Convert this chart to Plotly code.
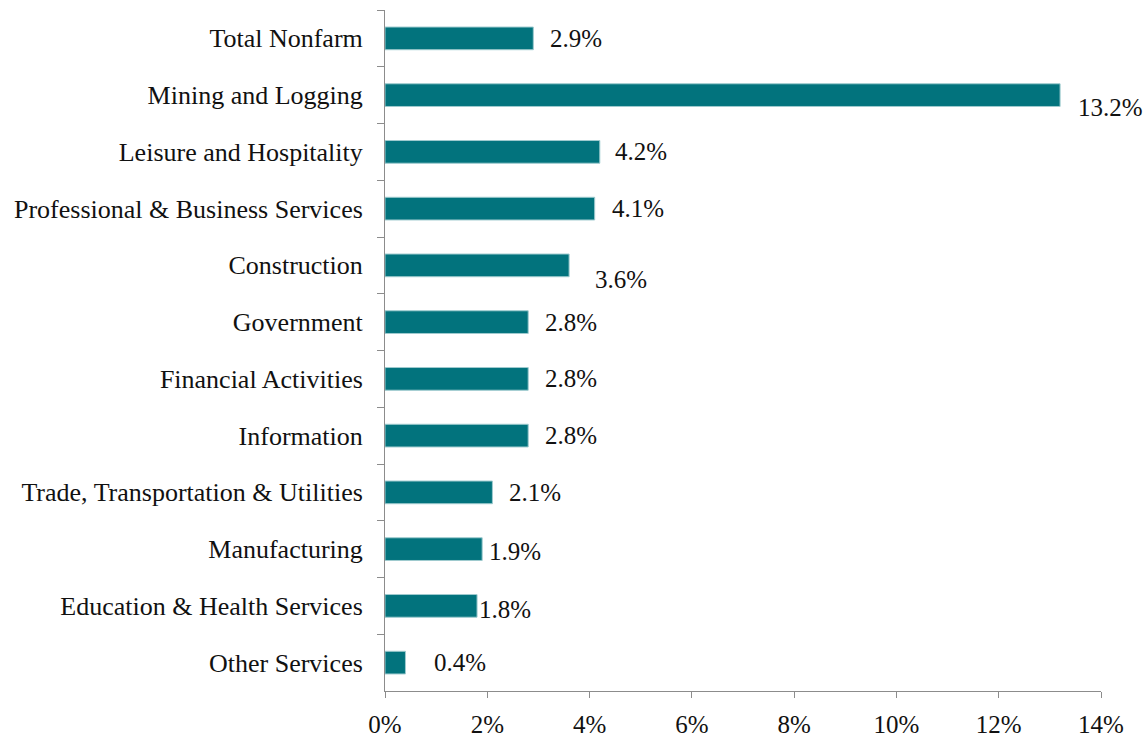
import plotly.graph_objects as go

# Job growth by industry, year over year
industries = [
    "Total Nonfarm",
    "Mining and Logging",
    "Leisure and Hospitality",
    "Professional & Business Services",
    "Construction",
    "Government",
    "Financial Activities",
    "Information",
    "Trade, Transportation & Utilities",
    "Manufacturing",
    "Education & Health Services",
    "Other Services",
]
growth_pct = [2.9, 13.2, 4.2, 4.1, 3.6, 2.8, 2.8, 2.8, 2.1, 1.9, 1.8, 0.4]
x_ticks = [0, 2, 4, 6, 8, 10, 12, 14]

# Label nudges (pixels) applied to each data label
label_dx = [15, 16, 13, 15, 24, 15, 15, 15, 15, 5, 0, 27]
label_dy = [0, -12, 0, 0, -14, 0, 0, 0, 0, -2, -4, 0]

FONT = "'Liberation Serif', 'Times New Roman', serif"
BAR = "#02737D"

fig = go.Figure(
    go.Bar(
        x=growth_pct,
        y=industries,
        orientation="h",
        width=0.4,
        marker=dict(color=BAR, line=dict(color="#9FCBCF", width=1)),
        hoverinfo="skip",
    )
)

for name, v, dx, dy in zip(industries, growth_pct, label_dx, label_dy):
    fig.add_annotation(
        x=v, y=name, xref="x", yref="y",
        text=f"{v:.1f}%", showarrow=False,
        xanchor="left", yanchor="middle",
        xshift=dx, yshift=dy,
        font=dict(family=FONT, size=25, color="#111111"),
    )

fig.update_layout(
    width=1148, height=739,
    margin=dict(l=385, r=47, t=10, b=48),
    plot_bgcolor="white", paper_bgcolor="white",
    showlegend=False,
    font=dict(family=FONT, size=26, color="#111111"),
    bargap=0.6,
)
fig.update_xaxes(
    range=[0, 14], tickvals=x_ticks,
    ticktext=[f"{t}%" for t in x_ticks],
    showgrid=False, zeroline=False,
    showline=True, linecolor="#8C8C8C", linewidth=1,
    ticks="outside", ticklen=6, tickcolor="#8C8C8C",
    ticklabelstandoff=5, automargin=False,
    tickfont=dict(family=FONT, size=25, color="#111111"),
)
fig.update_yaxes(
    categoryorder="array", categoryarray=industries,
    autorange="reversed",
    showgrid=False, zeroline=False,
    showline=True, linecolor="#8C8C8C", linewidth=1,
    ticks="outside", tickson="boundaries", ticklen=7, tickcolor="#8C8C8C",
    ticklabelstandoff=16, automargin=False,
    tickfont=dict(family=FONT, size=26, color="#111111"),
)

fig.write_html("out.html")
